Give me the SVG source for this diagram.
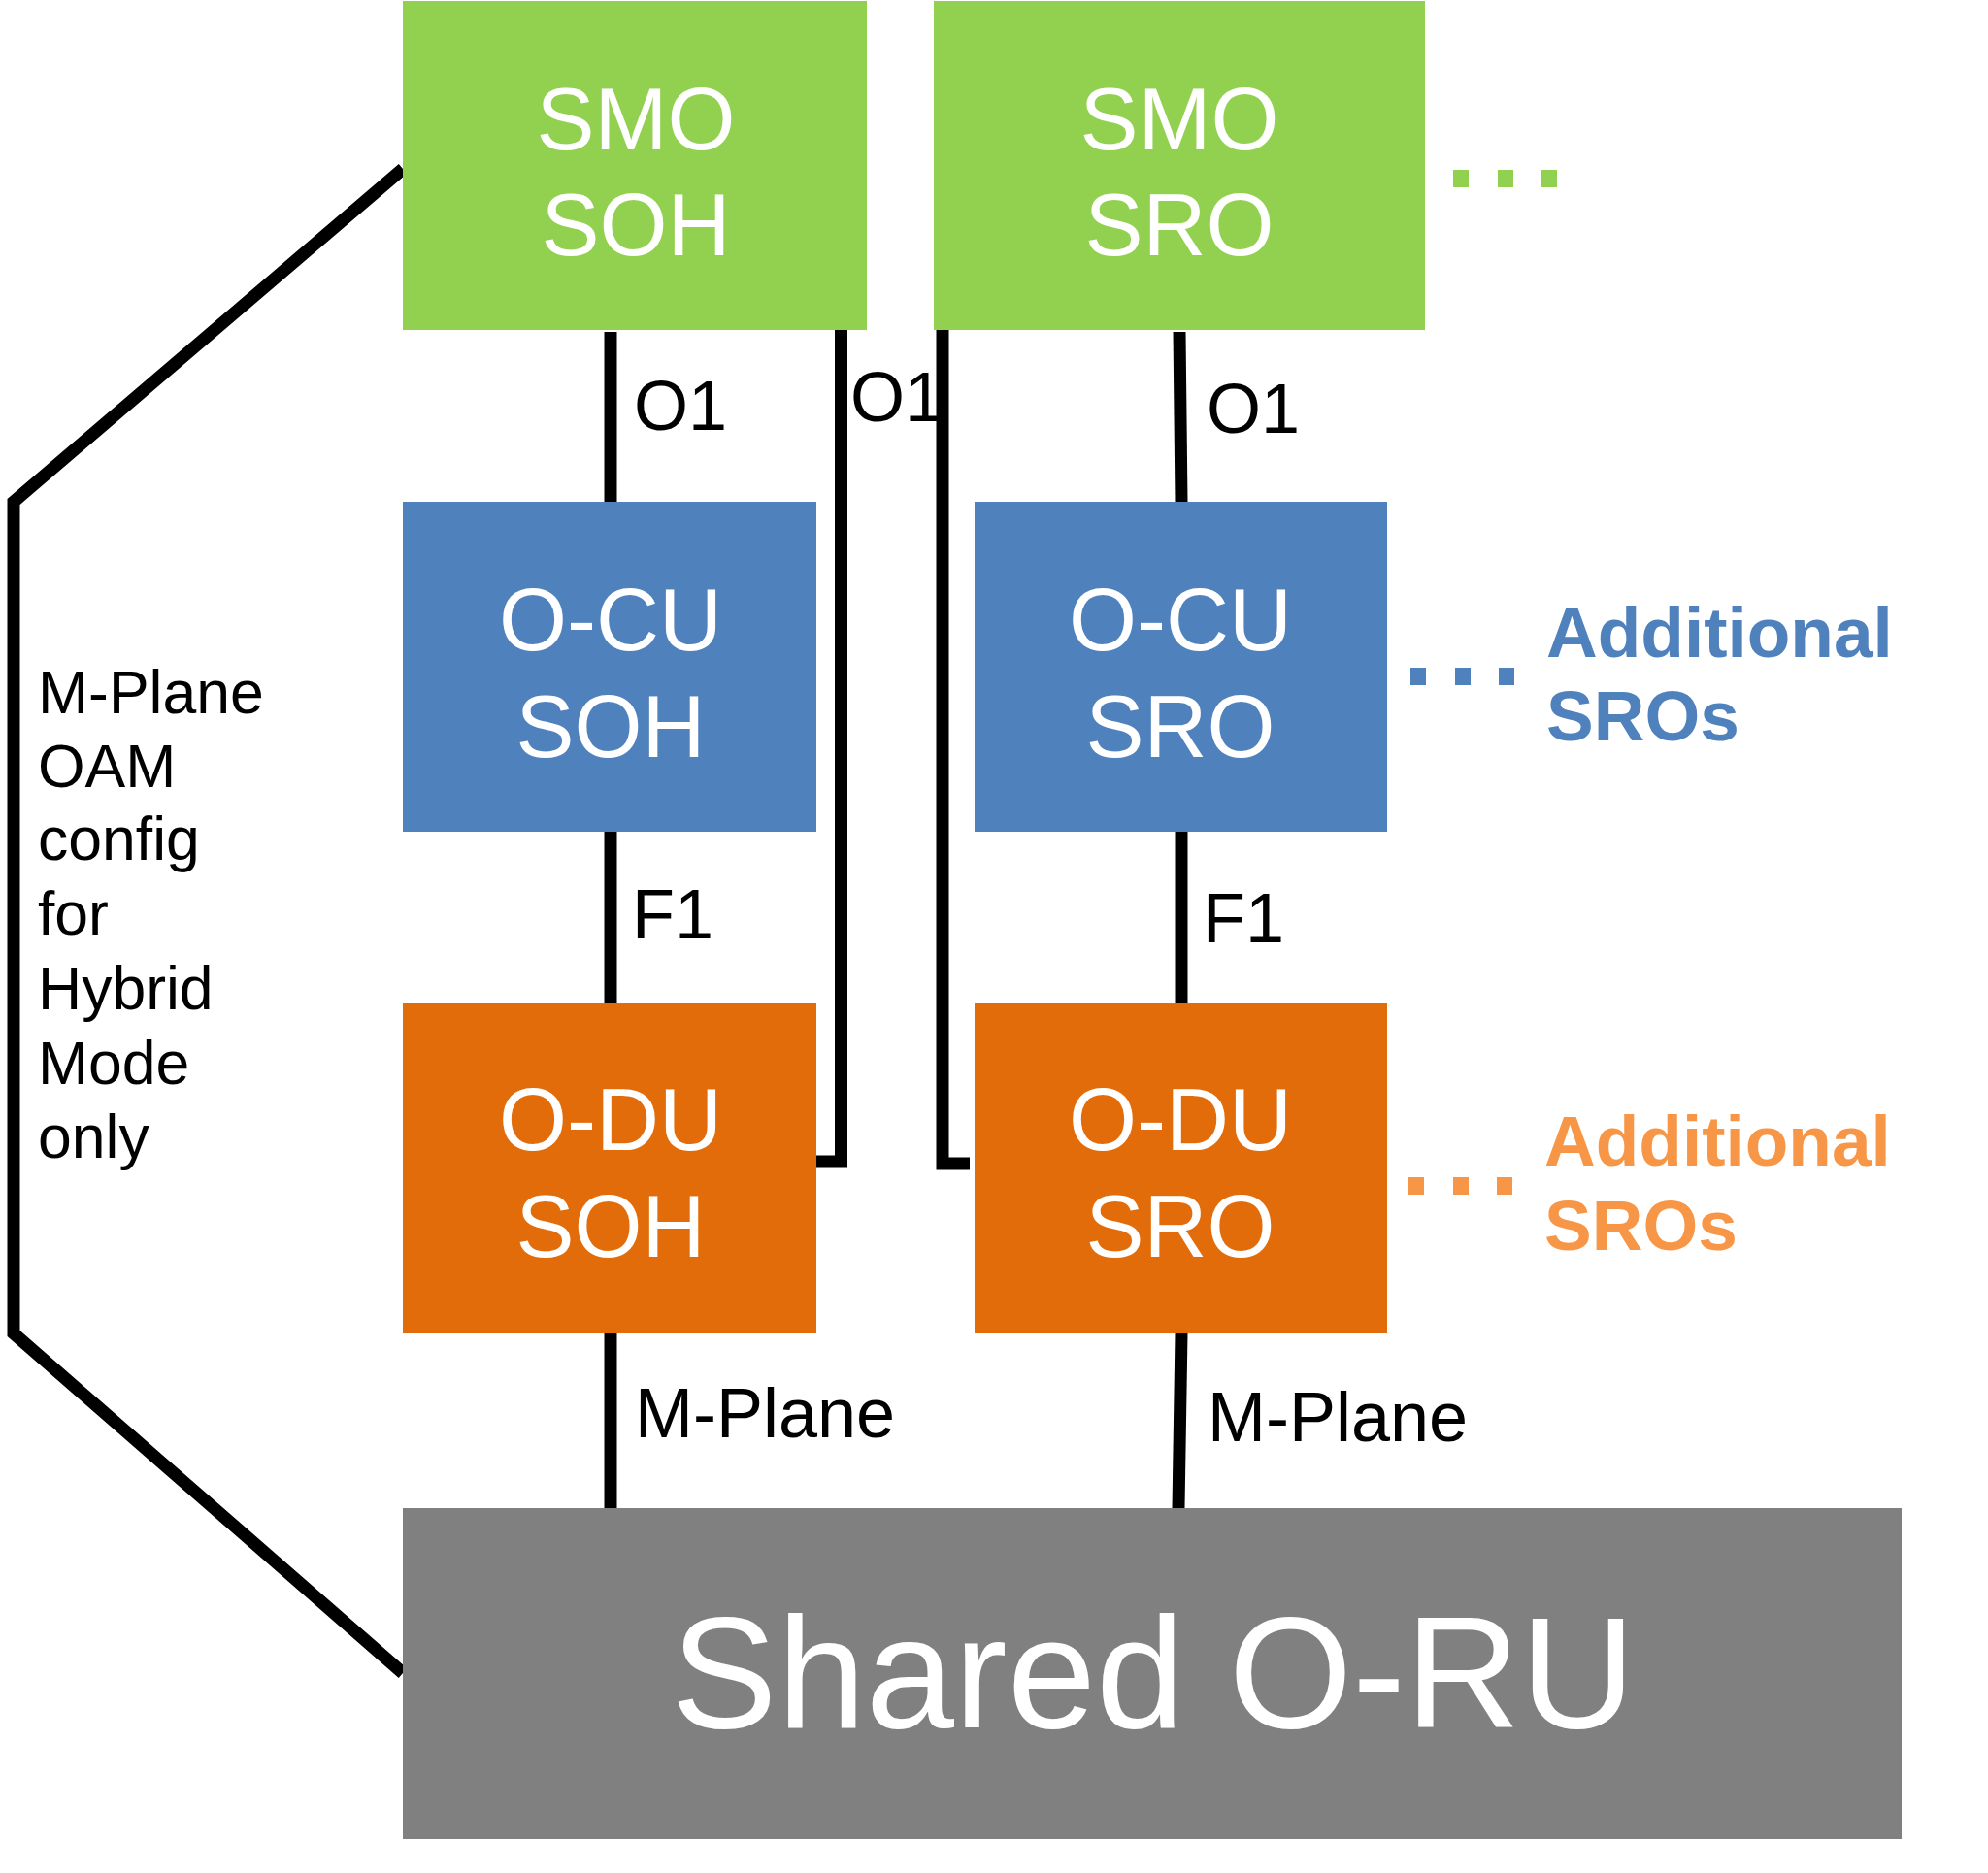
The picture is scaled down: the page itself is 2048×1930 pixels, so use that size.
<svg xmlns="http://www.w3.org/2000/svg" width="2048" height="1930" viewBox="0 0 2048 1930">
<style>
.box-text{font-family:"Liberation Sans",Arial,sans-serif;font-size:90px;fill:#ffffff;text-anchor:middle}
.lbl{font-family:"Liberation Sans",Arial,sans-serif;font-size:72px;fill:#000000}
.side{font-family:"Liberation Sans",Arial,sans-serif;font-size:62.5px;fill:#000000}
.add{font-family:"Liberation Sans",Arial,sans-serif;font-size:73px;font-weight:bold}
.ln{fill:none;stroke:#000000;stroke-width:13}
</style>
<rect width="2048" height="1930" fill="#ffffff"/>
<g id="connectors">
<polyline class="ln" points="415,174 14,517 14,1374 415,1724"/>
<line class="ln" x1="629" y1="342" x2="629" y2="517"/>
<line class="ln" x1="1215" y1="342" x2="1217" y2="517"/>
<line class="ln" x1="629" y1="857" x2="629" y2="1034"/>
<line class="ln" x1="1217" y1="857" x2="1217" y2="1034"/>
<line class="ln" x1="629" y1="1374" x2="629" y2="1554"/>
<line class="ln" x1="1217" y1="1374" x2="1214" y2="1554"/>
<polyline class="ln" points="866.5,330 866.5,1197 835,1197"/>
<polyline class="ln" points="971,330 971,1199 999,1199"/>
<text class="lbl" x="653" y="443">O1</text>
<text class="lbl" x="876" y="434">O1</text>
<text class="lbl" x="1243" y="446">O1</text>
<text class="lbl" x="651" y="967">F1</text>
<text class="lbl" x="1239" y="971">F1</text>
<text class="lbl" x="654" y="1481">M-Plane</text>
<text class="lbl" x="1244" y="1485">M-Plane</text>
</g>
<g id="side-label">
<text class="side" x="39" y="735">M-Plane</text>
<text class="side" x="39" y="811">OAM</text>
<text class="side" x="39" y="886">config</text>
<text class="side" x="39" y="963">for</text>
<text class="side" x="39" y="1040">Hybrid</text>
<text class="side" x="39" y="1117">Mode</text>
<text class="side" x="39" y="1193">only</text>
</g>
<g id="smo-soh">
<rect x="415" y="1" width="478" height="339" fill="#92D050"/>
<text class="box-text" x="655" y="154">SMO</text>
<text class="box-text" x="655" y="263">SOH</text>
</g>
<g id="smo-sro">
<rect x="962" y="1" width="506" height="339" fill="#92D050"/>
<text class="box-text" x="1215" y="154">SMO</text>
<text class="box-text" x="1215" y="263">SRO</text>
</g>
<g id="smo-more" fill="#92D050">
<rect x="1497" y="175" width="16" height="18"/>
<rect x="1543" y="175" width="16" height="18"/>
<rect x="1588" y="175" width="16" height="18"/>
</g>
<g id="ocu-soh">
<rect x="415" y="517" width="426" height="340" fill="#4F81BD"/>
<text class="box-text" x="629" y="670">O-CU</text>
<text class="box-text" x="629" y="780">SOH</text>
</g>
<g id="ocu-sro">
<rect x="1004" y="517" width="425" height="340" fill="#4F81BD"/>
<text class="box-text" x="1216" y="670">O-CU</text>
<text class="box-text" x="1216" y="780">SRO</text>
</g>
<g id="ocu-more" fill="#4F81BD">
<rect x="1453" y="688" width="16" height="18"/>
<rect x="1499" y="688" width="16" height="18"/>
<rect x="1544" y="688" width="16" height="18"/>
<text class="add" x="1593" y="677">Additional</text>
<text class="add" x="1593" y="763">SROs</text>
</g>
<g id="odu-soh">
<rect x="415" y="1034" width="426" height="340" fill="#E36C0A"/>
<text class="box-text" x="629" y="1185">O-DU</text>
<text class="box-text" x="629" y="1295">SOH</text>
</g>
<g id="odu-sro">
<rect x="1004" y="1034" width="425" height="340" fill="#E36C0A"/>
<text class="box-text" x="1216" y="1185">O-DU</text>
<text class="box-text" x="1216" y="1295">SRO</text>
</g>
<g id="odu-more" fill="#F79646">
<rect x="1451" y="1213" width="16" height="18"/>
<rect x="1497" y="1213" width="16" height="18"/>
<rect x="1542" y="1213" width="16" height="18"/>
<text class="add" x="1591" y="1201">Additional</text>
<text class="add" x="1591" y="1288">SROs</text>
</g>
<g id="shared-oru">
<rect x="415" y="1554" width="1544" height="341" fill="#808080"/>
<text x="1188" y="1780" font-family="'Liberation Sans',Arial,sans-serif" font-size="164" fill="#ffffff" text-anchor="middle">Shared O-RU</text>
</g>
</svg>
